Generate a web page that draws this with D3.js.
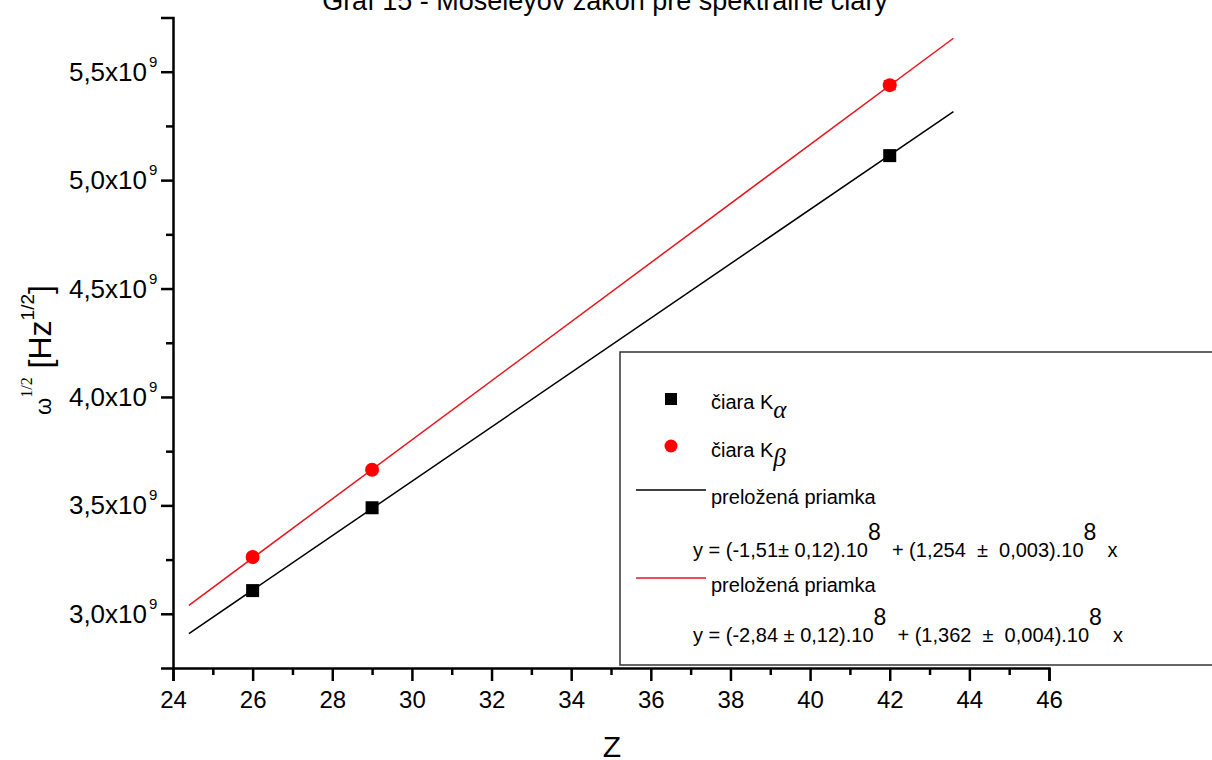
<html>
<style>
  body { margin: 0; background: #fff; }
  text { font-family: "Liberation Sans", Arial, sans-serif; fill: #000; white-space: pre; }
</style>
<body>
<script src="https://cdnjs.cloudflare.com/ajax/libs/d3/7.8.5/d3.min.js"></script>
<svg id="chart" width="1212" height="760"></svg>
<script>
  // data
  var zKa = [26, 29, 42];
  var wKa = [3.107e9, 3.489e9, 5.113e9];
  var eKa = [0.010e9, 0.010e9, 0.012e9];
  var zKb = [26, 29, 42];
  var wKb = [3.262e9, 3.664e9, 5.438e9];
  var eKb = [0.012e9, 0.012e9, 0.020e9];
  // fitted lines: intercept, slope
  var fitKa = [-1.51e8, 1.254e8];
  var fitKb = [-2.84e8, 1.362e8];
  var fitRange = [24.4, 43.6];
  var xTicks = [24, 26, 28, 30, 32, 34, 36, 38, 40, 42, 44, 46];
  var xMinor = [25, 27, 29, 31, 33, 35, 37, 39, 41, 43, 45];
  var yTicks = [3.0e9, 3.5e9, 4.0e9, 4.5e9, 5.0e9, 5.5e9];
  var yTickLabels = ["3,0x10", "3,5x10", "4,0x10", "4,5x10", "5,0x10", "5,5x10"];
  var yMinor = [3.25e9, 3.75e9, 4.25e9, 4.75e9, 5.25e9];

  var svg = d3.select("#chart");
  var x = d3.scaleLinear().domain([24, 46]).range([173, 1049]);
  var y = d3.scaleLinear().domain([2.75e9, 5.75e9]).range([668, 17.5]);

  // title (cut off at top like the original)
  svg.append("text").attr("x", 605).attr("y", 10).attr("text-anchor", "middle")
    .style("font-size", "27px").text("Graf 15 - Moseleyov zákon pre spektrálne čiary");

  // fitted lines
  var line = d3.line().x(function(d) { return x(d[0]); }).y(function(d) { return y(d[1]); });
  function fitPts(f) {
    return fitRange.map(function(z) { return [z, f[0] + f[1] * z]; });
  }
  svg.append("path").attr("d", line(fitPts(fitKa))).attr("stroke", "#000").attr("stroke-width", 1.5).attr("fill", "none");
  svg.append("path").attr("d", line(fitPts(fitKb))).attr("stroke", "#e8141c").attr("stroke-width", 1.5).attr("fill", "none");

  // error bars
  function errBars(zs, ws, es, col) {
    zs.forEach(function(z, i) {
      var g = svg.append("g").attr("stroke", col).attr("stroke-width", 1.5);
      g.append("line").attr("x1", x(z)).attr("x2", x(z)).attr("y1", y(ws[i] - es[i])).attr("y2", y(ws[i] + es[i]));
      [ws[i] - es[i], ws[i] + es[i]].forEach(function(v) {
        g.append("line").attr("x1", x(z) - 6).attr("x2", x(z) + 6).attr("y1", y(v)).attr("y2", y(v));
      });
    });
  }
  errBars(zKa, wKa, eKa, "#000");
  errBars(zKb, wKb, eKb, "#f00");

  // points
  svg.selectAll(".ka").data(zKa).enter().append("rect")
    .attr("x", function(d) { return x(d) - 6.5; })
    .attr("y", function(d, i) { return y(wKa[i]) - 6.5; })
    .attr("width", 13).attr("height", 13).attr("fill", "#000");
  svg.selectAll(".kb").data(zKb).enter().append("circle")
    .attr("cx", function(d) { return x(d); })
    .attr("cy", function(d, i) { return y(wKb[i]); })
    .attr("r", 7).attr("fill", "#f00");

  // legend box
  svg.append("rect").attr("x", 620).attr("y", 352).attr("width", 600).attr("height", 313)
    .attr("fill", "#fff").attr("stroke", "#333").attr("stroke-width", 1.5);
  svg.append("rect").attr("x", 665).attr("y", 393).attr("width", 12).attr("height", 12).attr("fill", "#000");
  svg.append("circle").attr("cx", 671).attr("cy", 446).attr("r", 6.5).attr("fill", "#f00");
  var t1 = svg.append("text").attr("x", 711).attr("y", 409).style("font-size", "20px");
  t1.append("tspan").text("čiara K");
  t1.append("tspan").attr("dy", 9).style("font-family", "'Liberation Serif', serif").style("font-style", "italic").style("font-size", "25px").text("α");
  var t2 = svg.append("text").attr("x", 711).attr("y", 457).style("font-size", "20px");
  t2.append("tspan").text("čiara K");
  t2.append("tspan").attr("dy", 9).style("font-family", "'Liberation Serif', serif").style("font-style", "italic").style("font-size", "25px").text("β");

  svg.append("line").attr("x1", 636).attr("x2", 706).attr("y1", 490).attr("y2", 490).attr("stroke", "#000").attr("stroke-width", 1.5);
  svg.append("text").attr("x", 711).attr("y", 504).style("font-size", "20px").text("preložená priamka");
  svg.append("line").attr("x1", 636).attr("x2", 706).attr("y1", 578).attr("y2", 578).attr("stroke", "#e8141c").attr("stroke-width", 1.5);
  svg.append("text").attr("x", 711).attr("y", 592).style("font-size", "20px").text("preložená priamka");

  function equation(yy, parts) {
    var t = svg.append("text").attr("x", 693).attr("y", yy).style("font-size", "20px");
    t.append("tspan").text(parts[0]);
    t.append("tspan").attr("dy", -17).style("font-size", "23px").text("8");
    t.append("tspan").attr("dy", 17).text(parts[1]);
    t.append("tspan").attr("dy", -17).style("font-size", "23px").text("8");
    t.append("tspan").attr("dy", 17).text("  x");
  }
  equation(557, ["y = (-1,51± 0,12).10", "  + (1,254  ±  0,003).10"]);
  equation(642, ["y = (-2,84 ± 0,12).10", "  + (1,362  ±  0,004).10"]);

  // x axis
  var gx = svg.append("g").attr("transform", "translate(0,668)")
    .call(d3.axisBottom(x).tickValues(xTicks).tickSize(13).tickPadding(10).tickFormat(d3.format("d")));
  gx.select(".domain").attr("stroke-width", 2.5);
  gx.selectAll(".tick line").attr("stroke-width", 2.5);
  gx.selectAll(".tick text").style("font-family", "'Liberation Sans', Arial, sans-serif").style("font-size", "24px");
  svg.append("g").attr("transform", "translate(0,668)")
    .call(d3.axisBottom(x).tickValues(xMinor).tickSize(7).tickFormat(""))
    .call(function(g) { g.select(".domain").remove(); g.selectAll("line").attr("stroke-width", 2.5); });

  // y axis
  var gy = svg.append("g").attr("transform", "translate(173,0)")
    .call(d3.axisLeft(y).tickValues(yTicks).tickSize(12).tickFormat(""));
  gy.select(".domain").attr("stroke-width", 2.5);
  gy.selectAll(".tick line").attr("stroke-width", 2.5);
  svg.append("g").attr("transform", "translate(173,0)")
    .call(d3.axisLeft(y).tickValues(yMinor).tickSize(7).tickFormat(""))
    .call(function(g) { g.select(".domain").remove(); g.selectAll("line").attr("stroke-width", 2.5); });
  yTicks.forEach(function(v, i) {
    var t = svg.append("text").attr("x", 147).attr("y", y(v) + 9).attr("text-anchor", "end").style("font-size", "26px");
    t.text(yTickLabels[i]);
    svg.append("text").attr("x", 149).attr("y", y(v) - 5).style("font-size", "15px").text("9");
  });

  // axis titles
  svg.append("text").attr("x", 612).attr("y", 757).attr("text-anchor", "middle").style("font-size", "30px").text("Z");
  var yl = svg.append("text").attr("transform", "translate(51,350) rotate(-90)").attr("text-anchor", "middle");
  yl.append("tspan").style("font-size", "22px").text("ω");
  yl.append("tspan").attr("dy", -19).style("font-family", "'Liberation Serif', serif").style("font-size", "16px").text("1/2");
  yl.append("tspan").attr("dy", 19).style("font-size", "32px").text(" [Hz");
  yl.append("tspan").attr("dy", -17).style("font-size", "19px").text("1/2");
  yl.append("tspan").attr("dy", 17).style("font-size", "32px").text("]");
</script>
</body>
</html>
